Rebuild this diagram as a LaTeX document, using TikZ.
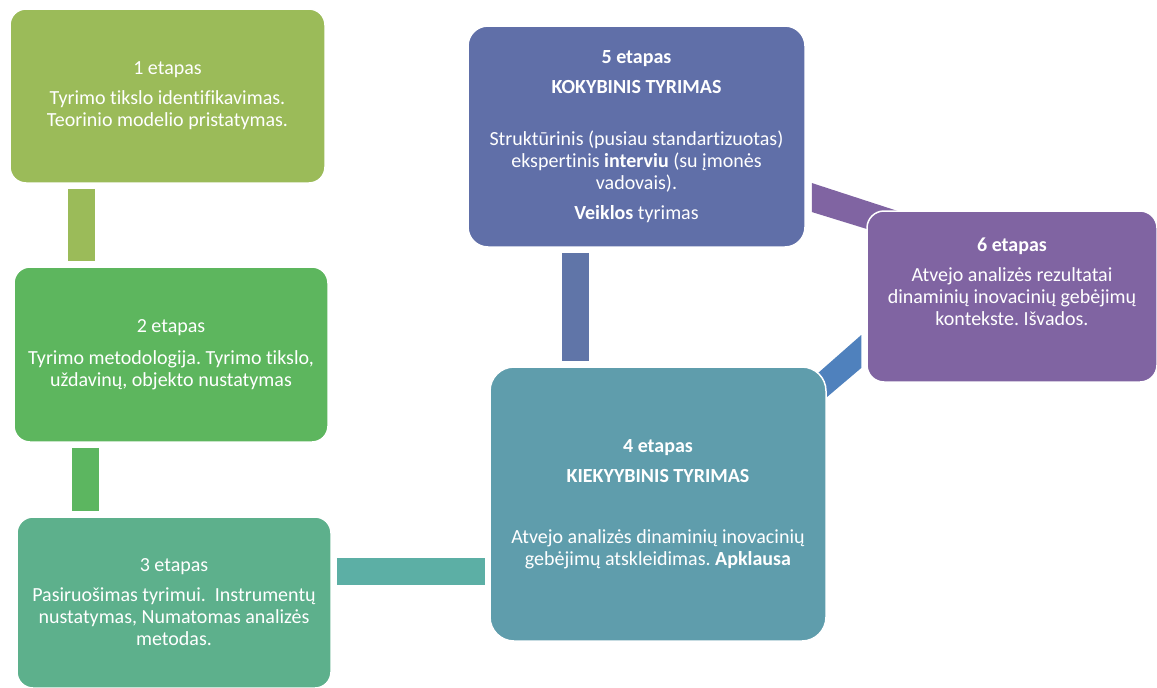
\documentclass[tikz,border=0pt]{standalone}
\usepackage{fontspec}
\setmainfont{Carlito}[RawFeature=-liga]
\usetikzlibrary{calc,backgrounds}
\frenchspacing

\definecolor{cOne}{HTML}{9BBB59}
\definecolor{cTwo}{HTML}{5DB65E}
\definecolor{cThree}{HTML}{5DB08C}
\definecolor{cFour}{HTML}{5F9DAC}
\definecolor{cFive}{HTML}{606FA8}
\definecolor{cSix}{HTML}{8064A2}
\definecolor{lOneTwo}{HTML}{9BBB59}
\definecolor{lTwoThree}{HTML}{5CB660}
\definecolor{lThreeFour}{HTML}{5CAFA5}
\definecolor{lFourFive}{HTML}{6075A8}
\definecolor{lFiveSix}{HTML}{8064A2}
\definecolor{lFourSix}{HTML}{4F81BD}

\begin{document}
\begin{tikzpicture}[x=1pt,y=-1pt,
  stagebox/.style={draw=white, line width=1.5pt, text=white, align=center,
    inner sep=0pt, font=\fontsize{20}{22}\selectfont},
  band/.style={line width=27pt}
]
\useasboundingbox (0,0) rectangle (1157,688);

% stage boxes
\node[stagebox, fill=cOne, minimum width=315pt, minimum height=174pt,
      rounded corners=16pt] (b1) at (167.5,96)
  {1 etapas\\[8pt]Tyrimo tikslo identifikavimas.\\Teorinio modelio pristatymas.};

\node[stagebox, fill=cTwo, minimum width=314pt, minimum height=175pt,
      rounded corners=16pt] (b2) at (171,354.5)
  {2 etapas\\[10pt]Tyrimo metodologija. Tyrimo tikslo,\\uždavinų, objekto nustatymas};

\node[stagebox, fill=cThree, minimum width=314pt, minimum height=171pt,
      rounded corners=16pt] (b3) at (174,602.5)
  {3 etapas\\[8pt]Pasiruošimas tyrimui.\ \ Instrumentų\\nustatymas, Numatomas analizės\\metodas.};

\node[stagebox, fill=cFour, minimum width=336pt, minimum height=274pt,
      rounded corners=24pt] (b4) at (658,504)
  {\textbf{4 etapas}\\[8pt]\textbf{KIEKYYBINIS TYRIMAS}\\[39pt]Atvejo analizės dinaminių inovacinių\\gebėjimų atskleidimas. \textbf{Apklausa}};

\node[stagebox, fill=cFive, minimum width=337pt, minimum height=221pt,
      rounded corners=20pt] (b5) at (636.5,136.5)
  {\textbf{5 etapas}\\[8pt]\textbf{KOKYBINIS TYRIMAS}\\[30pt]Struktūrinis (pusiau standartizuotas)\\ekspertinis \textbf{interviu} (su įmonės\\vadovais).\\[8pt]\textbf{Veiklos} tyrimas};

\node[stagebox, fill=cSix, minimum width=290pt, minimum height=171pt,
      rounded corners=17pt] (b6) at (1012,296.5)
  {\textbf{6 etapas}\\[8pt]Atvejo analizės rezultatai\\dinaminių inovacinių gebėjimų\\kontekste. Išvados.\\[8pt]\mbox{}};

% connecting bands, behind the boxes
\begin{scope}[on background layer]
  \draw[band, lOneTwo] ($(b1.south west)+(72.5,5)$) -- ($(b2.north west)+(68.5,-5)$);
  \draw[band, lTwoThree] ($(b2.south west)+(72,5)$) -- ($(b3.north west)+(69,-5)$);
  \draw[band, lThreeFour] ($(b3.north east)+(5,55.5)$) -- ($(b4.north west)+(-4,205.5)$);
  \draw[band, lFourFive] ($(b5.south west)+(108,5)$) -- ($(b4.north west)+(86,-5)$);
  \fill[lFiveSix] ($(b5.east)+(6,46.5)$) -- ($(b6.west)+(33,-85)$)
      -- ($(b6.west)+(33,-57.5)$) -- ($(b5.east)+(6,75.5)$) -- cycle;
  \fill[lFourSix] ($(b6.west)+(-5,38.5)$) -- ($(b6.west)+(-5,71.5)$)
      -- ($(b4.north east)+(-26,53)$) -- ($(b4.north east)+(-26,22)$) -- cycle;
\end{scope}
\end{tikzpicture}
\end{document}
